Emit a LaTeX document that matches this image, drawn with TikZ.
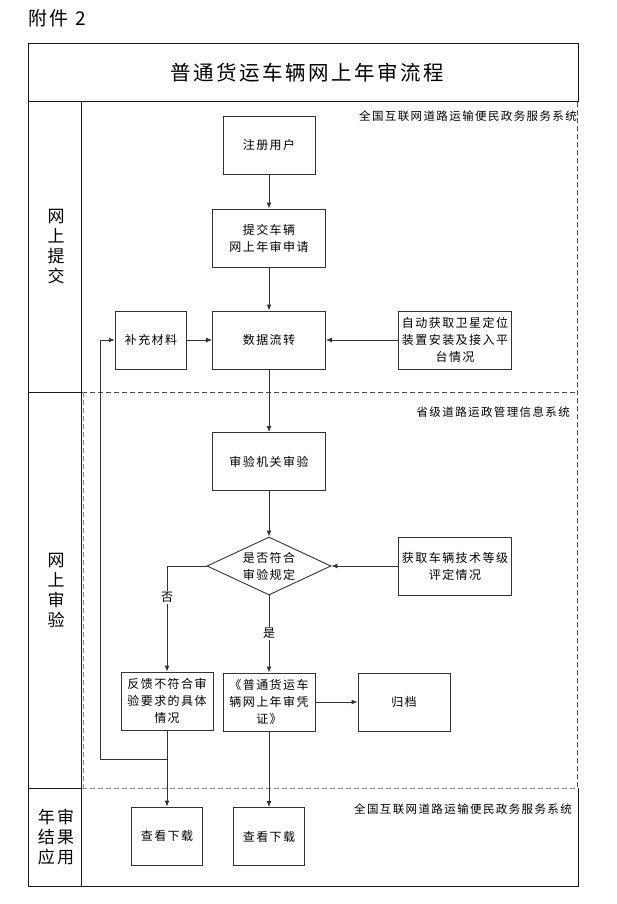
\documentclass[tikz,border=0pt]{standalone}
\usepackage{fontspec}
\setmainfont{Noto Sans CJK SC}[LetterSpace=12]
\usetikzlibrary{arrows.meta,shapes.geometric}
\begin{document}
\begin{tikzpicture}[x=1pt,y=-1pt,
  frame/.style={draw=black!90,line width=1pt},
  dashdark/.style={draw=black!70,line width=1pt,dash pattern=on 5pt off 3pt},
  dashlight/.style={draw=black!45,line width=1pt,dash pattern=on 5pt off 3pt},
  box/.style={draw=black!80,line width=0.9pt,inner sep=0pt,minimum height=58pt,align=center,font=\fontsize{12}{17}\selectfont},
  dia/.style={draw=black!80,line width=0.9pt,shape=diamond,inner sep=0pt,minimum width=124pt,minimum height=58pt},
  lane/.style={align=center,font=\fontsize{17}{20}\selectfont},
  sys/.style={anchor=east,font=\fontsize{11.5}{14}\selectfont,inner sep=0pt},
  arr/.style={draw=black!80,line width=0.9pt,-{Latex[length=6pt,width=5pt]}},
  yn/.style={fill=white,inner sep=1pt,font=\fontsize{12}{14}\selectfont}]
\useasboundingbox (0,0) rectangle (616,904);
% header
\node[anchor=west,font=\fontsize{19}{21}\selectfont,inner sep=0pt] (att) at (28,18) {附件 2};
\draw[frame] (28,44) rectangle (578,102);
\node[font=\fontsize{20.5}{24}\selectfont] (title) at (307,73) {普通货运车辆网上年审流程};
% lane column
\draw[frame] (28,102) rectangle (81.5,392);
\draw[frame] (28,392) rectangle (81.5,788);
\draw[frame] (28,788) rectangle (81.5,886);
\node[lane] (l1) at (56,247) {网\\上\\提\\交};
\node[lane] (l2) at (56,590) {网\\上\\审\\验};
\node[lane] (l3) at (56,837) {年审\\结果\\应用};
% system regions
\draw[dashdark] (82,392) -- (578,392);
\draw[dashlight] (82,788) -- (578,788);
\draw[dashdark] (577.5,102) -- (577.5,788);
\draw[dashlight] (83.5,392) -- (83.5,788);
\draw[frame] (81.5,886) -- (578,886) -- (578,788);
\node[sys] (s1) at (577,116) {全国互联网道路运输便民政务服务系统};
\node[sys] (s2) at (570,412) {省级道路运政管理信息系统};
\node[sys] (s3) at (572,809) {全国互联网道路运输便民政务服务系统};
% nodes
\node[box,minimum width=92pt] (reg) at (269,145) {注册用户};
\node[box,minimum width=113pt] (sub) at (269,238) {提交车辆\\网上年审申请};
\node[box,minimum width=113pt] (flow) at (269,340) {数据流转};
\node[box,minimum width=71.5pt] (supp) at (151,340) {补充材料};
\node[box,minimum width=113.5pt] (auto) at (455,340) {自动获取卫星定位\\装置安装及接入平\\台情况};
\node[box,minimum width=113pt] (audit) at (269,461.5) {审验机关审验};
\node[dia,label={[align=center,font=\fontsize{12}{17}\selectfont]center:是否符合\\审验规定}] (d) at (269,566) {};
\node[box,minimum width=113.5pt] (tech) at (455,566) {获取车辆技术等级\\评定情况};
\node[box,minimum width=92pt] (fb) at (167,701) {反馈不符合审\\验要求的具体\\情况};
\node[box,minimum width=92pt] (cert) at (269,702) {《普通货运车\\辆网上年审凭\\证》};
\node[box,minimum width=92pt] (arch) at (404,702) {归档};
\node[box,minimum width=71pt] (dl1) at (167,836) {查看下载};
\node[box,minimum width=71pt] (dl2) at (269,836.5) {查看下载};
% connectors
\draw[arr] (reg) -- (sub);
\draw[arr] (sub) -- (flow);
\draw[arr] (supp) -- (flow);
\draw[arr] (auto) -- (flow);
\draw[arr] (flow) -- (audit);
\draw[arr] (audit) -- (d);
\draw[arr] (tech) -- (d.east);
\draw[arr] (d.west) -| node[yn,pos=0.65] {否} (fb.north);
\draw[arr] (d.south) -- node[yn,pos=0.49] {是} (cert.north);
\draw[arr] (cert) -- (arch);
\draw[arr] (fb) -- (dl1);
\draw[arr] (cert) -- (dl2);
\coordinate (j) at (167,759);
\coordinate (lc) at (100,759);
\draw[arr] (j) -- (lc) |- (supp.west);
\end{tikzpicture}
\end{document}
